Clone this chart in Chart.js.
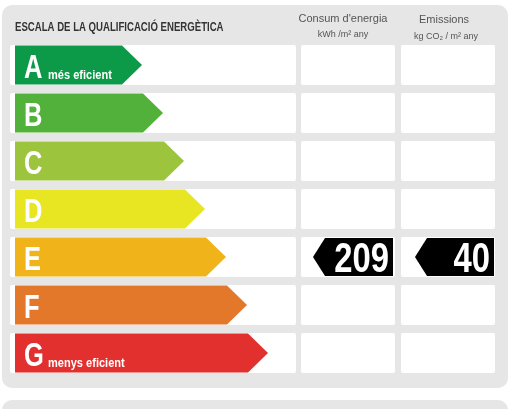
<!DOCTYPE html>
<html><head><meta charset="utf-8">
<script src="https://cdn.jsdelivr.net/npm/chart.js@4"></script>
<style>html,body{margin:0;padding:0;background:#fff}#wrap{width:515px;height:409px}</style>
</head><body><div id="wrap"><canvas id="c"></canvas></div>
<script>
const classes = ['A', 'B', 'C', 'D', 'E', 'F', 'G'];
const subLabels = ['més eficient', '', '', '', '', '', 'menys eficient'];
const arrowEnds = [142, 163, 184, 205, 226, 247, 268];
const colors = ['#0d9a48', '#52b13b', '#9cc43c', '#e8e622', '#f0b41a', '#e4782a', '#e2302f'];
const ratedClass = 'E';
const consum = 209;
const emissions = 40;

function rr(ctx, x, y, w, h, r) {
    ctx.beginPath();
    ctx.roundRect(x, y, w, h, r);
    ctx.fill();
}

function condensedText(ctx, text, x, y, font, sx) {
    ctx.save();
    ctx.translate(x, y);
    ctx.scale(sx, 1);
    ctx.font = font;
    ctx.fillText(text, 0, 0);
    ctx.restore();
}

const labelPlugin = {
    id: 'label',
    beforeDraw(chart) {
        const ctx = chart.ctx;
        const yScale = chart.scales.y;
        ctx.save();
        ctx.fillStyle = '#e6e6e6';
        rr(ctx, 2, 5, 506, 383, 10);
        rr(ctx, 2, 400, 506, 40, 10);
        ctx.fillStyle = '#ffffff';
        classes.forEach((c, i) => {
            const yc = yScale.getPixelForValue(i);
            rr(ctx, 10, yc - 20, 286, 40, 2);
            rr(ctx, 301, yc - 20, 94, 40, 2);
            rr(ctx, 401, yc - 20, 94, 40, 2);
        });
        ctx.fillStyle = '#333';
        ctx.textBaseline = 'alphabetic';
        condensedText(ctx, 'ESCALA DE LA QUALIFICACIÓ ENERGÈTICA', 15, 31, 'bold 12px "Liberation Sans"', 0.8);
        ctx.fillStyle = '#555';
        ctx.textAlign = 'center';
        ctx.font = '11px "Liberation Sans"';
        ctx.fillText("Consum d'energia", 343, 22);
        ctx.fillText('Emissions', 444, 23);
        ctx.font = '9px "Liberation Sans"';
        ctx.fillText('kWh /m² any', 343, 37);
        ctx.fillText('kg CO₂ / m² any', 446, 39);
        ctx.restore();
    },
    afterDatasetsDraw(chart) {
        const ctx = chart.ctx;
        const meta = chart.getDatasetMeta(0);
        ctx.save();
        meta.data.forEach((bar, i) => {
            const h = bar.height / 2;
            const x0 = bar.base, x1 = bar.x, y = bar.y;
            ctx.fillStyle = colors[i];
            ctx.beginPath();
            ctx.moveTo(x0, y - h);
            ctx.lineTo(x1 - 20, y - h);
            ctx.lineTo(x1, y);
            ctx.lineTo(x1 - 20, y + h);
            ctx.lineTo(x0, y + h);
            ctx.closePath();
            ctx.fill();
            ctx.fillStyle = '#fff';
            condensedText(ctx, classes[i], x0 + 9, y + 13, 'bold 34px "Liberation Sans"', 0.75);
            if (subLabels[i]) condensedText(ctx, subLabels[i], x0 + 33, y + 14, 'bold 13px "Liberation Sans"', 0.85);
        });
        // rating tags
        const yc = chart.scales.y.getPixelForValue(classes.indexOf(ratedClass));
        [[313, 393, consum], [415, 494, emissions]].forEach(([a, b, v]) => {
            ctx.fillStyle = '#000';
            ctx.beginPath();
            ctx.moveTo(a + 12, yc - 19);
            ctx.lineTo(b, yc - 19);
            ctx.lineTo(b, yc + 19);
            ctx.lineTo(a + 12, yc + 19);
            ctx.lineTo(a, yc);
            ctx.closePath();
            ctx.fill();
            ctx.fillStyle = '#fff';
            ctx.textAlign = 'right';
            condensedText(ctx, String(v), 0, 0, '', 1);
            ctx.save();
            ctx.translate(b - 4, yc + 15);
            ctx.scale(0.78, 1);
            ctx.font = 'bold 42px "Liberation Sans"';
            ctx.fillText(String(v), 0, 0);
            ctx.restore();
        });
        ctx.restore();
    }
};

new Chart(document.getElementById('c'), {
    type: 'bar',
    data: {
        labels: classes,
        datasets: [{
            data: arrowEnds.map(e => [15, e]),
            backgroundColor: 'rgba(0,0,0,0)',
            barPercentage: 0.81,
            categoryPercentage: 1
        }]
    },
    options: {
        indexAxis: 'y',
        responsive: true,
        maintainAspectRatio: false,
        animation: false,
        layout: { padding: { top: 41, bottom: 32, left: 0, right: 0 } },
        scales: {
            x: { display: false, min: 0, max: 515 },
            y: { display: false }
        },
        plugins: { legend: { display: false }, tooltip: { enabled: false } }
    },
    plugins: [labelPlugin]
});
</script></body></html>
